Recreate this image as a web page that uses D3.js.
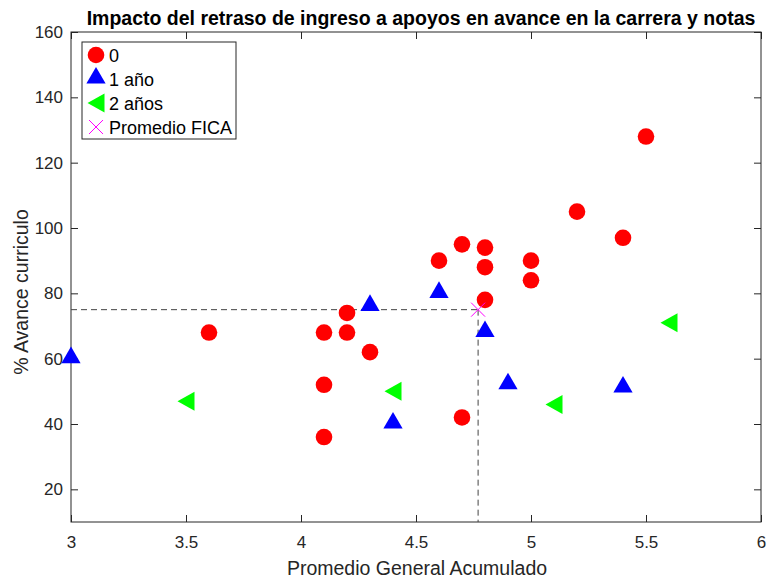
<!DOCTYPE html>
<html>
<head>
<meta charset="utf-8">
<script src="https://cdn.jsdelivr.net/npm/d3@7"></script>
<style>
  body { margin: 0; background: #fff; }
  text { font-family: "Liberation Sans", Arial, sans-serif; }
</style>
</head>
<body>
<svg id="chart" width="767" height="580"></svg>
<script>
// data: [promedio, % avance]
const grupo0 = [
  [3.6, 68], [4.1, 68], [4.1, 52], [4.1, 36], [4.2, 74], [4.2, 68],
  [4.3, 62], [4.6, 90], [4.7, 95], [4.7, 42], [4.8, 94], [4.8, 88],
  [4.8, 78], [5.0, 90], [5.0, 84], [5.2, 105], [5.4, 97], [5.5, 128]
];
const grupo1 = [[3.0, 60], [4.3, 76], [4.4, 40], [4.6, 80], [4.8, 68], [4.9, 52], [5.4, 51]];
const grupo2 = [[3.5, 47], [4.4, 50], [5.1, 46], [5.6, 71]];
const promedioFICA = [4.77, 75];

const xTicks = [3, 3.5, 4, 4.5, 5, 5.5, 6];
const yTicks = [20, 40, 60, 80, 100, 120, 140, 160];

const svg = d3.select('#chart');
const plotLeft = 71, plotRight = 761, plotTop = 32, plotBottom = 522;
const axisColor = '#262626';

const x = d3.scaleLinear().domain([3, 6]).range([plotLeft, plotRight]);
const y = d3.scaleLinear().domain([10, 160]).range([plotBottom, plotTop]);

// box + ticks
svg.append('rect')
  .attr('x', plotLeft).attr('y', plotTop)
  .attr('width', plotRight - plotLeft).attr('height', plotBottom - plotTop)
  .attr('fill', 'none').attr('stroke', axisColor).attr('stroke-width', 1);

svg.append('g').attr('transform', 'translate(0,' + plotBottom + ')')
  .call(d3.axisBottom(x).tickValues(xTicks).tickSize(-7).tickPadding(14).tickFormat(d3.format('')));
svg.append('g').attr('transform', 'translate(' + plotLeft + ',0)')
  .call(d3.axisLeft(y).tickValues(yTicks).tickSize(-7).tickPadding(8));
svg.append('g').attr('transform', 'translate(0,' + plotTop + ')')
  .call(d3.axisTop(x).tickValues(xTicks).tickSize(-7).tickFormat(''));
svg.append('g').attr('transform', 'translate(' + plotRight + ',0)')
  .call(d3.axisRight(y).tickValues(yTicks).tickSize(-7).tickFormat(''));

svg.selectAll('.domain').remove();
svg.selectAll('.tick line').attr('stroke', axisColor);
svg.selectAll('.tick text')
  .attr('fill', axisColor)
  .style('font-size', '17px')
  .style('font-family', '"Liberation Sans", Arial, sans-serif');

// reference dashed lines
svg.append('line')
  .attr('x1', x(3)).attr('x2', x(promedioFICA[0]))
  .attr('y1', y(promedioFICA[1])).attr('y2', y(promedioFICA[1]))
  .attr('stroke', '#444').attr('stroke-dasharray', '6,4').attr('stroke-width', 1);
svg.append('line')
  .attr('x1', x(promedioFICA[0])).attr('x2', x(promedioFICA[0]))
  .attr('y1', y(promedioFICA[1])).attr('y2', plotBottom)
  .attr('stroke', '#444').attr('stroke-dasharray', '6,4').attr('stroke-width', 1);

const triUp = d3.symbol().type(d3.symbolTriangle).size(160);
const triLeft = 'M-8.5,0L8.5,-9.5L8.5,9.5Z';
const crossPath = 'M-7,-7L7,7M-7,7L7,-7';

// markers
svg.append('g').selectAll('circle').data(grupo0).enter()
  .append('circle')
  .attr('cx', d => x(d[0])).attr('cy', d => y(d[1]))
  .attr('r', 8.3).attr('fill', '#ff0000');

svg.append('g').selectAll('path').data(grupo1).enter()
  .append('path')
  .attr('d', triUp)
  .attr('transform', d => 'translate(' + x(d[0]) + ',' + (y(d[1]) - 1) + ')')
  .attr('fill', '#0000ff');

svg.append('g').selectAll('path').data(grupo2).enter()
  .append('path')
  .attr('d', triLeft)
  .attr('transform', d => 'translate(' + x(d[0]) + ',' + y(d[1]) + ')')
  .attr('fill', '#00ff00');

svg.append('path')
  .attr('d', crossPath)
  .attr('transform', 'translate(' + x(promedioFICA[0]) + ',' + y(promedioFICA[1]) + ')')
  .attr('stroke', '#ff00ff').attr('stroke-width', 1).attr('fill', 'none');

// title and labels
svg.append('text')
  .attr('x', 421).attr('y', 25)
  .attr('text-anchor', 'middle')
  .style('font-size', '19.5px').style('font-weight', 'bold')
  .text('Impacto del retraso de ingreso a apoyos en avance en la carrera y notas');

svg.append('text')
  .attr('x', (plotLeft + plotRight) / 2 + 1).attr('y', 575)
  .attr('text-anchor', 'middle').attr('fill', axisColor)
  .style('font-size', '19.5px')
  .text('Promedio General Acumulado');

svg.append('text')
  .attr('transform', 'translate(28,' + 292 + ') rotate(-90)')
  .attr('text-anchor', 'middle').attr('fill', axisColor)
  .style('font-size', '19.5px')
  .text('% Avance curriculo');

// legend
const legend = svg.append('g');
legend.append('rect')
  .attr('x', 82).attr('y', 42).attr('width', 154).attr('height', 97)
  .attr('fill', '#fff').attr('stroke', axisColor).attr('stroke-width', 1);

const items = [
  { label: '0', kind: 'circle' },
  { label: '1 año', kind: 'up' },
  { label: '2 años', kind: 'left' },
  { label: 'Promedio FICA', kind: 'cross' }
];
items.forEach((it, i) => {
  const cy = 55 + i * 24, cx = 96;
  if (it.kind === 'circle') {
    legend.append('circle').attr('cx', cx).attr('cy', cy).attr('r', 8.3).attr('fill', '#ff0000');
  } else if (it.kind === 'up') {
    legend.append('path').attr('d', triUp).attr('transform', 'translate(' + cx + ',' + (cy - 1) + ')').attr('fill', '#0000ff');
  } else if (it.kind === 'left') {
    legend.append('path').attr('d', triLeft).attr('transform', 'translate(' + cx + ',' + cy + ')').attr('fill', '#00ff00');
  } else {
    legend.append('path').attr('d', crossPath).attr('transform', 'translate(' + cx + ',' + cy + ')')
      .attr('stroke', '#ff00ff').attr('fill', 'none');
  }
  legend.append('text')
    .attr('x', 109).attr('y', cy + 6.5)
    .style('font-size', '18px').attr('fill', '#000')
    .text(it.label);
});
</script>
</body>
</html>
